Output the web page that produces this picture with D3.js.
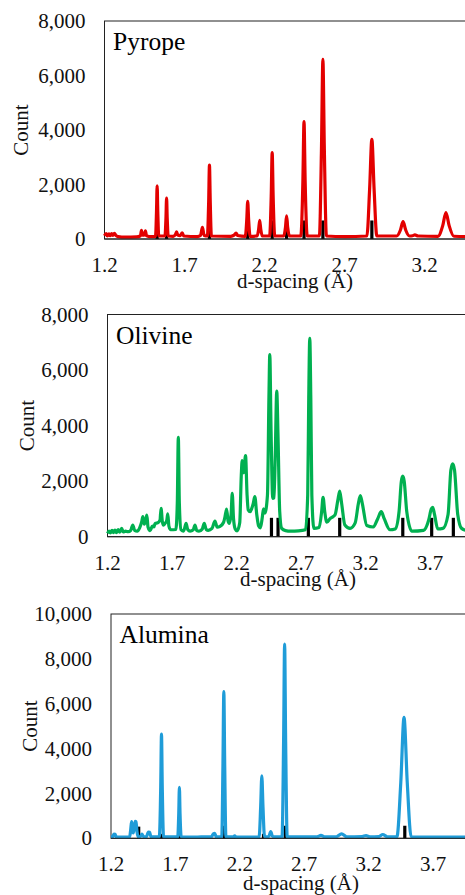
<!DOCTYPE html>
<html>
<head>
<meta charset="utf-8">
<script src="https://cdn.jsdelivr.net/npm/d3@7"></script>
<style>
    body { margin: 0; background: #fff; }
</style>
</head>
<body>
<div id="chart"></div>
<script>
// Diffraction patterns: [d-spacing, count]
let pyropeData = [
    [1.200, 120], [1.210, 200], [1.218, 110], [1.228, 190], [1.236, 120], [1.245, 200], [1.252, 130],
    [1.262, 210], [1.270, 140], [1.285, 90], [1.330, 70], [1.400, 80], [1.425, 120], [1.431, 320],
    [1.438, 140], [1.450, 150], [1.456, 300], [1.462, 120], [1.480, 90], [1.510, 90], [1.519, 110],
    [1.525, 1000], [1.529, 1950], [1.533, 1000], [1.539, 110], [1.578, 110], [1.584, 750], [1.588, 1500],
    [1.592, 750], [1.598, 110], [1.630, 100], [1.645, 180], [1.651, 260], [1.658, 140], [1.672, 120],
    [1.686, 230], [1.695, 110], [1.780, 90], [1.800, 130], [1.812, 430], [1.823, 130], [1.843, 110],
    [1.851, 1350], [1.856, 2710], [1.861, 1350], [1.868, 110], [1.990, 100], [2.010, 140], [2.022, 220],
    [2.032, 130], [2.080, 100], [2.089, 690], [2.095, 1380], [2.101, 690], [2.110, 100], [2.154, 110],
    [2.163, 340], [2.170, 680], [2.177, 340], [2.186, 110], [2.232, 110], [2.242, 1580], [2.248, 3170],
    [2.254, 1580], [2.264, 110], [2.320, 110], [2.331, 420], [2.338, 850], [2.345, 420], [2.356, 110],
    [2.427, 110], [2.440, 2150], [2.447, 4310], [2.454, 2150], [2.467, 110], [2.543, 110], [2.556, 3300],
    [2.565, 6590], [2.574, 3300], [2.587, 110], [2.700, 90], [2.840, 110], [2.857, 1830], [2.871, 3660],
    [2.885, 1830], [2.902, 110], [3.026, 110], [3.049, 320], [3.066, 640], [3.083, 320], [3.106, 110],
    [3.125, 120], [3.140, 150], [3.160, 110], [3.284, 100], [3.314, 490], [3.334, 970], [3.354, 490],
    [3.384, 100], [3.500, 90], [3.700, 90]
];
let pyropeSticks = [1.529, 1.588, 1.856, 2.095, 2.248, 2.338, 2.447, 2.565, 2.871];
let pyropeStickCounts = [300, 300, 660, 450, 680, 680, 680, 680, 680];

let olivineData = [
    [1.200, 120], [1.212, 200], [1.222, 140], [1.235, 230], [1.245, 150], [1.258, 240], [1.270, 150],
    [1.282, 260], [1.295, 160], [1.310, 300], [1.322, 170], [1.340, 200], [1.360, 180], [1.380, 230],
    [1.396, 420], [1.410, 230], [1.430, 200], [1.450, 330], [1.466, 550], [1.474, 720], [1.485, 450],
    [1.497, 600], [1.505, 780], [1.514, 350], [1.530, 220], [1.548, 380], [1.560, 350], [1.569, 480],
    [1.590, 500], [1.607, 600], [1.615, 1020], [1.625, 550], [1.634, 420], [1.650, 500], [1.660, 600],
    [1.667, 820], [1.676, 380], [1.690, 250], [1.730, 260], [1.741, 1200], [1.749, 3580], [1.757, 1200],
    [1.770, 250], [1.790, 200], [1.809, 480], [1.822, 260], [1.840, 200], [1.865, 250], [1.878, 420],
    [1.892, 220], [1.909, 200], [1.935, 280], [1.950, 480], [1.965, 260], [1.981, 230], [2.010, 300],
    [2.033, 560], [2.050, 340], [2.072, 370], [2.100, 520], [2.110, 700], [2.123, 990], [2.135, 560],
    [2.144, 480], [2.158, 800], [2.167, 1560], [2.177, 650], [2.190, 280], [2.205, 210], [2.225, 500],
    [2.237, 2200], [2.244, 2740], [2.255, 2300], [2.270, 2920], [2.282, 1500], [2.291, 960], [2.305, 900],
    [2.317, 1000], [2.330, 1200], [2.342, 1440], [2.357, 800], [2.372, 380], [2.385, 320], [2.400, 700],
    [2.409, 1000], [2.420, 850], [2.440, 1500], [2.452, 5200], [2.458, 6560], [2.468, 3800], [2.481, 1380],
    [2.490, 1400], [2.500, 2800], [2.512, 5240], [2.522, 3600], [2.535, 900], [2.550, 300], [2.580, 220],
    [2.620, 200], [2.680, 210], [2.735, 250], [2.752, 1500], [2.760, 5000], [2.768, 7140], [2.776, 5000],
    [2.784, 1500], [2.800, 300], [2.840, 330], [2.860, 900], [2.871, 1420], [2.884, 900], [2.900, 520],
    [2.925, 650], [2.948, 720], [2.965, 800], [2.985, 1300], [3.000, 1640], [3.015, 1200], [3.040, 420],
    [3.080, 300], [3.120, 500], [3.145, 1200], [3.160, 1480], [3.175, 1200], [3.210, 400], [3.260, 350],
    [3.295, 650], [3.322, 900], [3.345, 650], [3.390, 250], [3.430, 280], [3.460, 900], [3.478, 2000],
    [3.489, 2180], [3.500, 2000], [3.520, 900], [3.560, 200], [3.650, 230], [3.690, 600], [3.710, 1000],
    [3.721, 1060], [3.735, 800], [3.760, 280], [3.800, 300], [3.840, 800], [3.862, 2400], [3.876, 2620],
    [3.890, 2400], [3.915, 800], [3.945, 300], [4.000, 200]
];
let olivineSticks = [2.471, 2.522, 2.757, 3.000, 3.489, 3.713, 3.881];
let olivineStickCounts = [680, 680, 680, 680, 680, 680, 680];

let aluminaData = [
    [1.200, 60], [1.214, 70], [1.222, 190], [1.232, 180], [1.240, 60], [1.280, 50], [1.345, 60],
    [1.353, 400], [1.360, 740], [1.366, 500], [1.372, 240], [1.380, 450], [1.388, 760], [1.394, 740],
    [1.402, 300], [1.410, 70], [1.430, 80], [1.440, 190], [1.452, 80], [1.475, 70], [1.490, 280],
    [1.500, 270], [1.510, 70], [1.575, 60], [1.586, 2300], [1.592, 4650], [1.598, 2300], [1.608, 60],
    [1.718, 60], [1.726, 1100], [1.731, 2270], [1.736, 1100], [1.745, 60], [1.800, 50], [1.900, 60],
    [1.980, 70], [1.995, 200], [2.005, 220], [2.018, 60], [2.060, 60], [2.069, 3200], [2.076, 6540],
    [2.083, 3200], [2.092, 60], [2.150, 60], [2.160, 110], [2.172, 50], [2.350, 60], [2.362, 1400],
    [2.371, 2780], [2.380, 1400], [2.392, 60], [2.425, 80], [2.440, 300], [2.455, 80], [2.528, 60],
    [2.540, 4300], [2.548, 8660], [2.556, 4300], [2.568, 60], [2.700, 60], [2.800, 70], [2.830, 130],
    [2.860, 60], [2.950, 70], [2.990, 200], [3.030, 70], [3.150, 80], [3.180, 120], [3.210, 70],
    [3.280, 80], [3.310, 170], [3.345, 70], [3.420, 70], [3.450, 2500], [3.475, 5390], [3.500, 2500],
    [3.530, 70], [3.650, 50], [4.000, 50]
];
let aluminaSticks = [1.415, 1.592, 1.731, 2.081, 2.384, 2.553, 3.481];
let aluminaStickCounts = [520, 200, 200, 560, 200, 560, 560];

let xTicks = [1.2, 1.7, 2.2, 2.7, 3.2, 3.7];
let yTicks8k = [0, 2000, 4000, 6000, 8000];
let yTicks10k = [0, 2000, 4000, 6000, 8000, 10000];

// Layout of the three stacked panels (plot area in px)
let panels = [
    { name: "Pyrope", data: pyropeData, sticks: pyropeSticks, stickCounts: pyropeStickCounts,
      color: "#e30000", xMax: 3.7, yMax: 8000, yTicks: yTicks8k,
      left: 104.5, top: 21, bottom: 239, pxPerUnit: 160, countX: 21, titleX: 295, titleY: 288 },
    { name: "Olivine", data: olivineData, sticks: olivineSticks, stickCounts: olivineStickCounts,
      color: "#00b050", xMax: 4.2, yMax: 8000, yTicks: yTicks8k,
      left: 107.5, top: 314.5, bottom: 536.7, pxPerUnit: 129, countX: 27, titleX: 298, titleY: 586 },
    { name: "Alumina", data: aluminaData, sticks: aluminaSticks, stickCounts: aluminaStickCounts,
      color: "#1f9cd8", xMax: 4.2, yMax: 10000, yTicks: yTicks10k,
      left: 111, top: 614, bottom: 838.3, pxPerUnit: 128.8, countX: 30, titleX: 301, titleY: 890 }
];

let W = 465, H = 895;
// a single family name: the fallback list did not resolve here
let serifFont = "'Liberation Serif'";

let svg = d3.select("#chart").append("svg")
    .attr("width", W)
    .attr("height", H)
    .style("display", "block");

svg.append("rect").attr("width", W).attr("height", H).attr("fill", "#fff");

let fmt = d3.format(",");

panels.forEach(function (p) {
    let right = p.left + (p.xMax - 1.2) * p.pxPerUnit;
    let x = d3.scaleLinear().domain([1.2, p.xMax]).range([p.left, right]);
    let y = d3.scaleLinear().domain([0, p.yMax]).range([p.bottom, p.top]);

    let g = svg.append("g");

    // plot area frame
    g.append("rect")
        .attr("x", p.left)
        .attr("y", p.top)
        .attr("width", right - p.left)
        .attr("height", p.bottom - p.top)
        .attr("fill", "none")
        .attr("stroke", "#222")
        .attr("stroke-width", 1);

    // reference stick pattern
    g.selectAll(".stick")
        .data(p.sticks)
        .enter()
        .append("line")
        .attr("class", "stick")
        .attr("x1", function (d) { return x(d); })
        .attr("x2", function (d) { return x(d); })
        .attr("y1", y(0))
        .attr("y2", function (d, i) { return y(p.stickCounts[i]); })
        .attr("stroke", "#000")
        .attr("stroke-width", 3.2);

    // measured pattern
    let line = d3.line()
        .x(function (d) { return x(d[0]); })
        .y(function (d) { return y(d[1]); })
        .curve(d3.curveMonotoneX);

    g.append("path")
        .datum(p.data)
        .attr("d", line)
        .attr("fill", "none")
        .attr("stroke", p.color)
        .attr("stroke-width", 3.2)
        .attr("stroke-linejoin", "round");

    // bottom axis line drawn over the trace
    g.append("line")
        .attr("x1", p.left).attr("x2", right)
        .attr("y1", p.bottom).attr("y2", p.bottom)
        .attr("stroke", "#222");

    // y tick labels
    g.selectAll(".ytick")
        .data(p.yTicks)
        .enter()
        .append("text")
        .attr("class", "ytick")
        .attr("x", p.left - 19)
        .attr("y", function (d) { return y(d); })
        .attr("dy", "0.34em")
        .attr("text-anchor", "end")
        .style("font-family", serifFont)
        .style("font-size", "21px")
        .attr("fill", "#111")
        .text(function (d) { return fmt(d); });

    // x tick labels (only those inside the window)
    g.selectAll(".xtick")
        .data(xTicks.filter(function (d) { return x(d) + 16 <= W; }))
        .enter()
        .append("text")
        .attr("class", "xtick")
        .attr("x", function (d) { return x(d); })
        .attr("y", p.bottom + 33)
        .attr("text-anchor", "middle")
        .style("font-family", serifFont)
        .style("font-size", "21px")
        .attr("fill", "#111")
        .text(function (d) { return d.toFixed(1); });

    // axis titles
    g.append("text")
        .attr("x", p.titleX)
        .attr("y", p.titleY)
        .attr("text-anchor", "middle")
        .style("font-family", serifFont)
        .style("font-size", "21px")
        .attr("fill", "#111")
        .text("d-spacing (Å)");

    g.append("text")
        .attr("transform", "translate(" + p.countX + "," + ((p.top + p.bottom) / 2) + ") rotate(-90)")
        .attr("dy", "0.34em")
        .attr("text-anchor", "middle")
        .style("font-family", serifFont)
        .style("font-size", "21px")
        .attr("fill", "#111")
        .text("Count");

    // mineral name
    g.append("text")
        .attr("x", p.left + 8.5)
        .attr("y", p.top + 29)
        .style("font-family", serifFont)
        .style("font-size", "25.5px")
        .attr("fill", "#000")
        .text(p.name);
});
</script>
</body>
</html>
